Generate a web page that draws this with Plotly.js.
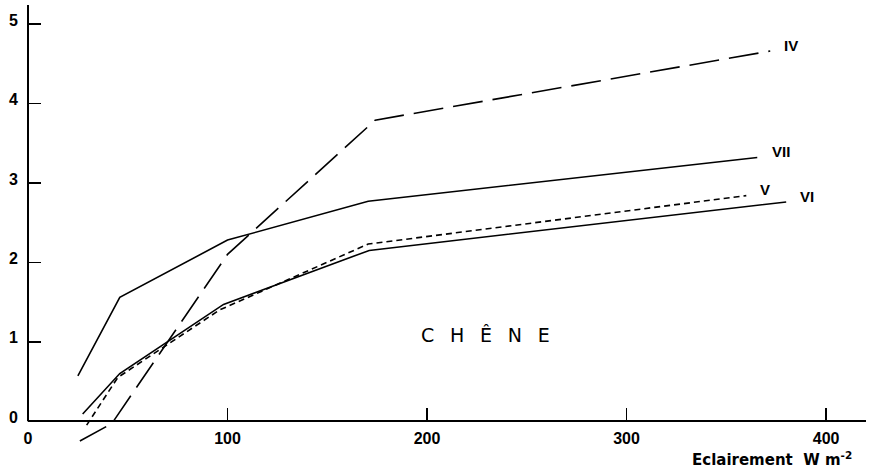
<!DOCTYPE html>
<html><head><meta charset="utf-8">
<script src="https://cdn.plot.ly/plotly-3.0.1.min.js"></script>
<style>html,body{margin:0;padding:0;background:#fff}</style>
</head><body><div id="chart" style="width:875px;height:470px"></div>
<script>
// Data
const ivX  = [26, 42, 100, 174, 372];
const ivY  = [-0.25, -0.03, 2.1, 3.79, 4.66];
const viiX = [25, 46, 100, 170.5, 365.5];
const viiY = [0.57, 1.56, 2.28, 2.77, 3.32];
const viX  = [27.4, 46, 98, 171, 380];
const viY  = [0.09, 0.60, 1.47, 2.15, 2.76];
const vX   = [29.4, 45, 96, 170.5, 360];
const vY   = [-0.05, 0.55, 1.40, 2.23, 2.84];
const seriesNames = ['IV', 'VII', 'VI', 'V'];
const xTicks = [0, 100, 200, 300, 400];
const yTicks = [0, 1, 2, 3, 4, 5];

const yMin = -0.3, yMax = 5.24, xMax = 420;
const line = (dash) => ({color: '#000', width: 1.6, dash: dash});
const traces = [
  {x: ivX, y: ivY, name: seriesNames[0], mode: 'lines', line: line('30px,10px')},
  {x: viiX, y: viiY, name: seriesNames[1], mode: 'lines', line: line('solid')},
  {x: viX, y: viY, name: seriesNames[2], mode: 'lines', line: line('solid')},
  {x: vX, y: vY, name: seriesNames[3], mode: 'lines', line: line('6px,4px')}
];

const labelFont = {family: 'Liberation Sans, Arial, sans-serif', size: 15, color: '#000', weight: 'bold'};
const tickFont = {family: 'Liberation Sans, Arial, sans-serif', size: 16, color: '#000', weight: 'bold'};
const lbl = (text, x, y) => ({text: text, x: x, y: y, xref: 'x', yref: 'y', xanchor: 'left', yanchor: 'middle', showarrow: false, font: labelFont});

const layout = {
  width: 875, height: 470,
  margin: {l: 28, r: 9, t: 5, b: 25},
  paper_bgcolor: '#fff', plot_bgcolor: '#fff',
  showlegend: false,
  xaxis: {
    range: [0, xMax], tickvals: xTicks, ticktext: xTicks.map(String),
    anchor: 'free', position: (0 - yMin) / (yMax - yMin),
    showline: true, linecolor: '#000', linewidth: 2,
    ticks: 'inside', ticklen: 12, tickwidth: 1.5, tickcolor: '#000',
    showgrid: false, zeroline: false,
    tickfont: tickFont, ticklabelstandoff: 3
  },
  yaxis: {
    range: [yMin, yMax], tickvals: yTicks, ticktext: yTicks.map(String),
    showline: false, ticks: 'inside', ticklen: 13, tickwidth: 1.5, tickcolor: '#000',
    showgrid: false, zeroline: false,
    tickfont: tickFont, ticklabelstandoff: 9, ticklabelshift: -4
  },
  shapes: [
    {type: 'line', xref: 'paper', yref: 'y', x0: 0, x1: 0, y0: 0, y1: yMax, line: {color: '#000', width: 2}}
  ],
  annotations: [
    lbl(seriesNames[0], 377.8, 4.73),
    lbl(seriesNames[1], 372, 3.39),
    lbl(seriesNames[3], 366, 2.92),
    lbl(seriesNames[2], 386, 2.83),
    {text: 'C\u2002\u2004H\u2002\u2004Ê\u2002\u2004N\u2002\u2004E', x: 229.5, y: 1.08, xref: 'x', yref: 'y',
     xanchor: 'center', yanchor: 'middle', showarrow: false,
     font: {family: 'DejaVu Sans, sans-serif', size: 19, color: '#000'}},
    {text: 'Eclairement  W m<sup>-2</sup>', x: 1, y: 0, xref: 'paper', yref: 'paper',
     xanchor: 'right', yanchor: 'top', yshift: -2, xshift: -12, showarrow: false,
     font: {family: 'DejaVu Sans, sans-serif', size: 15, color: '#000', weight: 'bold'}}
  ]
};
Plotly.newPlot('chart', traces, layout, {displayModeBar: false, staticPlot: true});
</script></body></html>
